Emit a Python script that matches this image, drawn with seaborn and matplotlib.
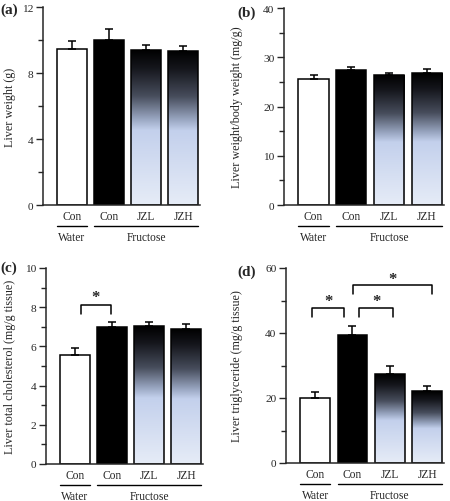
import numpy as np
import pandas as pd
import seaborn as sns
import matplotlib.pyplot as plt
from matplotlib import transforms
from matplotlib.colors import LinearSegmentedColormap

# groups / treatments on the x axis
groups = ["Water", "Fructose", "Fructose", "Fructose"]
treatments = ["Con", "Con", "JZL", "JZH"]
conditions = ["Water Con", "Fructose Con", "Fructose JZL", "Fructose JZH"]

# mean and SEM
liver_weight = [9.45, 10.0, 9.4, 9.35]
liver_weight_err = [0.5, 0.65, 0.27, 0.3]
liver_body_ratio = [25.6, 27.5, 26.4, 26.8]
liver_body_ratio_err = [0.8, 0.6, 0.5, 0.9]
cholesterol = [5.56, 7.0, 7.03, 6.9]
cholesterol_err = [0.35, 0.27, 0.21, 0.24]
triglyceride = [20.1, 39.4, 27.3, 22.1]
triglyceride_err = [1.9, 2.7, 2.7, 1.6]

sns.set_style("ticks")
plt.rcParams["font.family"] = ["Liberation Serif", "DejaVu Serif"]
plt.rcParams["font.size"] = 8.3

W, H = 450, 502
fig = plt.figure(figsize=(W / 100, H / 100), dpi=100)

bar_cmap = LinearSegmentedColormap.from_list(
    "jz", [(0.0, "#000000"), (0.12, "#15161c"), (0.3, "#474d5c"),
           (0.45, "#9aa7c2"), (0.52, "#c3d0ec"), (1.0, "#e6ecf7")])
fills = ["white", "black", "white", "white"]
gradient_bars = [2, 3]


def px_rect(left, right, top, bottom):
    return [left / W, 1 - bottom / H, (right - left) / W, (bottom - top) / H]


def below(ax, dy):
    return transforms.offset_copy(ax.get_xaxis_transform(), fig=fig, y=-dy, units="dots")


def draw_panel(rect, values, errs, ylim, major, minor, ylabel, label_x, letter, letter_xy):
    ax = fig.add_axes(px_rect(*rect))
    df = pd.DataFrame({"cond": conditions, "value": values})
    sns.barplot(data=df, x="cond", y="value", hue="cond", order=conditions,
                hue_order=conditions, palette=fills, errorbar=None, width=0.8,
                edgecolor="black", linewidth=1.1, legend=False, ax=ax)
    bars = sorted(ax.patches, key=lambda p: p.get_x())
    grad = np.linspace(0, 1, 256).reshape(-1, 1)
    for i in gradient_bars:
        p = bars[i]
        x0, w, h = p.get_x(), p.get_width(), p.get_height()
        im = ax.imshow(grad, cmap=bar_cmap, extent=[x0, x0 + w, 0, h],
                       aspect="auto", zorder=p.get_zorder() - 0.05)
        im.set_clip_path(p)
        p.set_facecolor("none")
    ax.errorbar(range(4), values, yerr=[np.zeros(4), errs], fmt="none",
                ecolor="black", elinewidth=1.1, capsize=3, capthick=1.1, zorder=3)

    ax.set_xlim(-0.78, 3.45)
    ax.set_ylim(*ylim)
    ax.set_yticks(major)
    ax.set_yticks(minor, minor=True)
    ax.tick_params(axis="y", which="major", length=5, width=1, pad=2, labelsize=8.2)
    ax.tick_params(axis="y", which="minor", length=3.5, width=1)
    ax.set_xticks([])
    ax.set_xlabel("")
    ax.set_ylabel(ylabel, fontsize=8.7)
    ax.yaxis.set_label_coords(label_x, 0.5)
    sns.despine(ax=ax)
    for s in ["left", "bottom"]:
        ax.spines[s].set_linewidth(1.1)

    for i, t in enumerate(treatments):
        ax.text(i, 0, t, transform=below(ax, 11), ha="center", va="center")
    ax.plot([-0.4, 0.4], [0, 0], transform=below(ax, 21), color="black", lw=1, clip_on=False)
    ax.plot([0.6, 3.4], [0, 0], transform=below(ax, 21), color="black", lw=1, clip_on=False)
    ax.text(0, 0, groups[0], transform=below(ax, 32), ha="center", va="center")
    ax.text(2, 0, groups[1], transform=below(ax, 32), ha="center", va="center")

    fig.text(letter_xy[0] / W, 1 - letter_xy[1] / H, letter, fontsize=11,
             fontweight="bold", ha="left", va="center")
    return ax


def bracket(ax, x0, x1, top, leg, star_y):
    ax.plot([x0, x0, x1, x1], [leg, top, top, leg], color="black", lw=1.1, clip_on=False)
    ax.text((x0 + x1) / 2, star_y, "*", fontsize=12, fontweight="bold",
            ha="center", va="center")


ax_a = draw_panel((43, 200, 8, 206), liver_weight, liver_weight_err, (0, 12),
                  [0, 4, 8, 12], [2, 6, 10], "Liver weight (g)", -0.17, "(a)", (0, 10))
ax_b = draw_panel((284, 444, 9, 206), liver_body_ratio, liver_body_ratio_err, (0, 40),
                  [0, 10, 20, 30, 40], [5, 15, 25, 35], "Liver weight/body weight (mg/g)",
                  -0.255, "(b)", (237, 13))
ax_c = draw_panel((46, 203, 269, 465), cholesterol, cholesterol_err, (0, 10),
                  [0, 2, 4, 6, 8, 10], [1, 3, 5, 7, 9], "Liver total cholesterol (mg/g tissue)",
                  -0.19, "(c)", (0, 268))
ax_d = draw_panel((286, 444, 269, 464), triglyceride, triglyceride_err, (0, 60),
                  [0, 20, 40, 60], [10, 30, 50], "Liver triglyceride (mg/g tissue)",
                  -0.27, "(d)", (237, 272))

bracket(ax_c, 0.15, 0.96, 8.13, 7.65, 8.5)
bracket(ax_d, -0.08, 0.77, 47.7, 44.9, 49.8)
bracket(ax_d, 1.18, 2.08, 47.7, 44.9, 49.8)
bracket(ax_d, 1.01, 3.12, 54.8, 52.0, 56.6)

fig.savefig("out.png", dpi=100)
